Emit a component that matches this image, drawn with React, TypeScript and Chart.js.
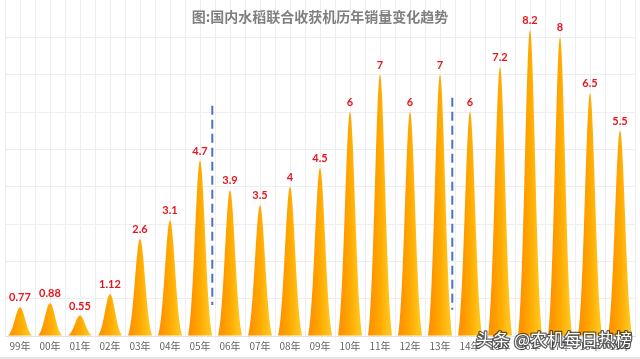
import { useEffect, useRef } from "react";
import { Chart, registerables } from "chart.js";

Chart.register(...registerables);

const years = ["99年", "00年", "01年", "02年", "03年", "04年", "05年", "06年", "07年", "08年", "09年", "10年", "11年", "12年", "13年", "14年", "15年", "16年", "17年", "18年", "19年"];
const sales = [0.77, 0.88, 0.55, 1.12, 2.6, 3.1, 4.7, 3.9, 3.5, 4, 4.5, 6, 7, 6, 7, 6, 7.2, 8.2, 8, 6.5, 5.5];
const dividerAfter = [6, 14];
const dividerTop = [6.17, 6.38];
const dividerBottom = [0.83, 0.7];
const yTicks = [0, 1, 2, 3, 4, 5, 6, 7, 8, 9];
const title = "图:国内水稻联合收获机历年销量变化趋势";
const watermark = "头条 @农机每日热榜";

const CJK = "'Noto Sans CJK SC', 'Noto Sans', sans-serif";

const peakPlugin = {
  id: "peaks",
  beforeDatasetsDraw(chart: any) {
    const { ctx, chartArea, scales } = chart;
    const xs = scales.x;
    ctx.save();
    ctx.strokeStyle = "#eeeeee";
    ctx.lineWidth = 1;
    for (let i = 0; i < years.length; i++) {
      const px = Math.round(xs.getPixelForValue(i)) + 0.5;
      ctx.beginPath();
      ctx.moveTo(px, chartArea.top);
      ctx.lineTo(px, chartArea.bottom);
      ctx.stroke();
    }
    ctx.fillStyle = "#7f7f7f";
    ctx.font = `bold 14px ${CJK}`;
    ctx.textAlign = "center";
    ctx.textBaseline = "middle";
    ctx.fillText(title, chart.width / 2, 17);
    ctx.restore();
  },
  afterDatasetsDraw(chart: any) {
    const { ctx, scales } = chart;
    const xs = scales.x;
    const ys = scales.y;
    const meta = chart.getDatasetMeta(0);
    ctx.save();
    meta.data.forEach((el: any, i: number) => {
      const { x, y, base, width } = el.getProps(["x", "y", "base", "width"], true);
      const half = width / 2;
      const sigma = width * 0.21;
      const h = base - y;
      const g0 = Math.exp(-(half * half) / (2 * sigma * sigma));
      const grad = ctx.createLinearGradient(x - half * 0.7, 0, x + half * 0.7, 0);
      grad.addColorStop(0, "#FF9400");
      grad.addColorStop(0.5, "#FFA900");
      grad.addColorStop(1, "#FFC41C");
      ctx.fillStyle = grad;
      ctx.beginPath();
      ctx.moveTo(x - half, base);
      const steps = 80;
      for (let k = 0; k <= steps; k++) {
        const t = -half + (2 * half * k) / steps;
        const g = Math.exp(-(t * t) / (2 * sigma * sigma));
        ctx.lineTo(x + t, base - (h * (g - g0)) / (1 - g0));
      }
      ctx.closePath();
      ctx.fill();

      ctx.fillStyle = "#E8141E";
      ctx.font = "bold 11px Lato, 'Liberation Sans', sans-serif";
      ctx.textAlign = "center";
      ctx.textBaseline = "bottom";
      ctx.fillText(String(sales[i]), x, y - 4);
    });

    const cat = xs.getPixelForValue(1) - xs.getPixelForValue(0);
    ctx.strokeStyle = "#4A74C9";
    ctx.lineWidth = 2;
    ctx.setLineDash([9, 5]);
    dividerAfter.forEach((idx, j) => {
      const px = xs.getPixelForValue(idx) + cat * 0.41;
      ctx.beginPath();
      ctx.moveTo(px, ys.getPixelForValue(dividerTop[j]));
      ctx.lineTo(px, ys.getPixelForValue(dividerBottom[j]));
      ctx.stroke();
    });
    ctx.restore();
  },
  afterDraw(chart: any) {
    const { ctx } = chart;
    ctx.save();
    ctx.fillStyle = "#e4e4e4";
    ctx.fillRect(0, chart.height - 2, chart.width, 2);
    ctx.font = `17px ${CJK}`;
    ctx.textAlign = "right";
    ctx.textBaseline = "middle";
    ctx.lineJoin = "round";
    ctx.strokeStyle = "rgba(40,40,40,0.75)";
    ctx.lineWidth = 2.5;
    ctx.strokeText(watermark, 632, 340);
    ctx.fillStyle = "#ffffff";
    ctx.fillText(watermark, 632, 340);
    ctx.restore();
  },
};

export default function App() {
  const ref = useRef<HTMLCanvasElement | null>(null);
  useEffect(() => {
    document.body.style.margin = "0";
    if (!ref.current) return;
    const chart = new Chart(ref.current, {
      type: "bar",
      data: {
        labels: years,
        datasets: [
          {
            data: sales,
            backgroundColor: "rgba(0,0,0,0)",
            borderWidth: 0,
            barPercentage: 0.8,
            categoryPercentage: 1,
          },
        ],
      },
      options: {
        animation: false,
        responsive: false,
        devicePixelRatio: 1,
        layout: { padding: { left: 5, right: 5, top: 0, bottom: 0 } },
        plugins: { legend: { display: false }, tooltip: { enabled: false }, title: { display: false } },
        scales: {
          x: {
            grid: { color: "#eeeeee", drawTicks: false, offset: true },
            border: { color: "#e2e2e2" },
            ticks: { color: "#666666", font: { family: CJK, size: 10 }, padding: 4, autoSkip: false, maxRotation: 0 },
            afterFit: (s: any) => {
              s.height = 23;
            },
          },
          y: {
            min: yTicks[0],
            max: yTicks[yTicks.length - 1],
            afterBuildTicks: (s: any) => {
              s.ticks = yTicks.map((v) => ({ value: v }));
            },
            grid: {
              drawTicks: false,
              color: (c: any) => (c.tick && c.tick.value === 9 ? "rgba(0,0,0,0)" : "#eeeeee"),
            },
            border: { display: false },
            ticks: { display: false },
            afterFit: (s: any) => {
              s.width = 0;
            },
          },
        },
      },
      plugins: [peakPlugin],
    });
    return () => chart.destroy();
  }, []);
  return (
    <div style={{ width: 640, height: 359, background: "#fff" }}>
      <canvas ref={ref} width={640} height={359} style={{ display: "block" }} />
    </div>
  );
}
